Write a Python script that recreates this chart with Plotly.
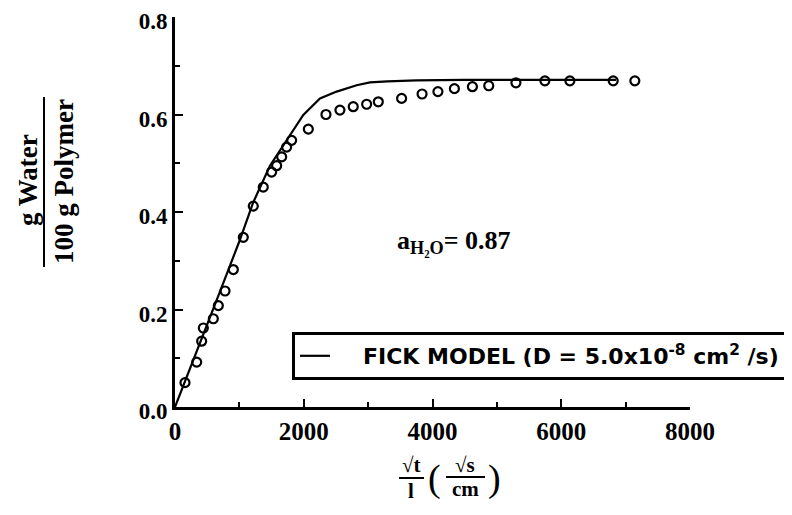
import plotly.graph_objects as go

# Measured data (open circles)
data_x = [155, 337, 414, 440, 595, 673, 777, 906, 1061, 1216, 1371, 1501, 1579, 1657,
          1734, 1812, 2071, 2345, 2562, 2769, 2977, 3158, 3520, 3838, 4084, 4340, 4620,
          4874, 5296, 5746, 6134, 6807, 7143]
data_y = [0.050, 0.092, 0.135, 0.162, 0.181, 0.208, 0.238, 0.282, 0.348, 0.412, 0.451,
          0.482, 0.495, 0.513, 0.533, 0.547, 0.570, 0.600, 0.609, 0.616, 0.621, 0.626,
          0.633, 0.642, 0.647, 0.653, 0.657, 0.659, 0.665, 0.669, 0.669, 0.669, 0.669]

# Fick model curve
fick_x = [0, 150, 400, 700, 1000, 1216, 1475, 1734, 1850, 1993, 2252, 2511, 2822, 3028,
          3300, 3752, 4500, 5500, 6850]
fick_y = [0, 0.05, 0.135, 0.237, 0.34, 0.42, 0.495, 0.547, 0.572, 0.599, 0.633, 0.647,
          0.660, 0.666, 0.668, 0.670, 0.671, 0.671, 0.671]

x_ticks = [0, 2000, 4000, 6000, 8000]
y_ticks = [0.0, 0.2, 0.4, 0.6, 0.8]
y_labels = ["0.0", "0.2", "0.4", "0.6", "0.8"]

OFF = 8  # page body margin
W, H = 792 - OFF, 515 - OFF
L, R, T, B = 175 - OFF, 102, 17 - OFF, 108
pw, ph = W - L - R, H - T - B


def px(x):
    """screen pixel x -> paper"""
    return (x - OFF - L) / pw


def py(y):
    """screen pixel y -> paper"""
    return (H - B - (y - OFF)) / ph


serif = "Liberation Serif"
NB = "\u00a0"

fig = go.Figure()
fig.add_trace(go.Scatter(
    x=fick_x, y=fick_y, mode="lines",
    line=dict(color="black", width=2.2),
    name=NB * 4 + "<b>FICK MODEL (D = 5.0x10<sup>-8</sup> cm<sup>2</sup> /s)</b>",
    showlegend=True, cliponaxis=False))
fig.add_trace(go.Scatter(
    x=data_x, y=data_y, mode="markers",
    marker=dict(symbol="circle-open", size=9, color="black",
                line=dict(width=2.2, color="black")),
    showlegend=False, cliponaxis=False))

fig.update_layout(
    width=W, height=H,
    margin=dict(l=L, r=R, t=T, b=B, autoexpand=False),
    paper_bgcolor="white", plot_bgcolor="white",
    showlegend=True,
    legend=dict(x=px(292), y=py(332), xanchor="left", yanchor="top",
                bordercolor="black", borderwidth=3, bgcolor="white",
                font=dict(family="DejaVu Sans", size=22, color="black"),
                itemwidth=30),
    font=dict(family=serif, color="black"),
)
fig.update_xaxes(
    range=[0, 8000], tickvals=x_ticks, ticktext=[f"<b>{v}</b>" for v in x_ticks],
    showline=True, linecolor="black", linewidth=3, mirror=False, automargin=False,
    ticks="inside", ticklen=8, tickwidth=2, tickcolor="black",
    minor=dict(ticks="inside", ticklen=5, tickwidth=2, dtick=1000, tickcolor="black"),
    tickfont=dict(family=serif, size=25, color="black"), ticklabeloverflow="allow",
    showgrid=False, zeroline=False)
fig.update_yaxes(
    range=[0, 0.8], tickvals=y_ticks, ticktext=[f"<b>{v}</b>" for v in y_labels],
    showline=True, linecolor="black", linewidth=3, mirror=False, automargin=False,
    ticks="inside", ticklen=8, tickwidth=2, tickcolor="black",
    minor=dict(ticks="inside", ticklen=5, tickwidth=2, dtick=0.1, tickcolor="black"),
    tickfont=dict(family=serif, size=23, color="black"), ticklabeloverflow="allow",
    ticklabelshift=4,
    showgrid=False, zeroline=False)

ann = []
# a_H2O annotation
ann.append(dict(x=3417, y=0.338, xref="x", yref="y", xanchor="left", yanchor="middle",
                text="<b>a<sub>H₂O</sub>= 0.87</b>", showarrow=False,
                font=dict(family=serif, size=26, color="black")))
# y-axis title (rotated fraction)
ann.append(dict(x=px(28), y=py(180), xref="paper", yref="paper", text="<b>g Water</b>",
                textangle=-90, showarrow=False, xanchor="center", yanchor="middle",
                font=dict(family=serif, size=27, color="black")))
ann.append(dict(x=px(64), y=py(182), xref="paper", yref="paper", text="<b>100 g Polymer</b>",
                textangle=-90, showarrow=False, xanchor="center", yanchor="middle",
                font=dict(family=serif, size=27, color="black")))
# x-axis title (fractions)
ann.append(dict(x=px(411), y=py(465), xref="paper", yref="paper", text="<b>√t</b>",
                showarrow=False, xanchor="center", yanchor="middle",
                font=dict(family=serif, size=21, color="black")))
ann.append(dict(x=px(411), y=py(491), xref="paper", yref="paper", text="<b>l</b>",
                showarrow=False, xanchor="center", yanchor="middle",
                font=dict(family=serif, size=21, color="black")))
ann.append(dict(x=px(434), y=py(478), xref="paper", yref="paper", text="(",
                showarrow=False, xanchor="center", yanchor="middle",
                font=dict(family=serif, size=38, color="black")))
ann.append(dict(x=px(465), y=py(465), xref="paper", yref="paper", text="<b>√s</b>",
                showarrow=False, xanchor="center", yanchor="middle",
                font=dict(family=serif, size=21, color="black")))
ann.append(dict(x=px(465), y=py(489), xref="paper", yref="paper", text="<b>cm</b>",
                showarrow=False, xanchor="center", yanchor="middle",
                font=dict(family=serif, size=21, color="black")))
ann.append(dict(x=px(494), y=py(478), xref="paper", yref="paper", text=")",
                showarrow=False, xanchor="center", yanchor="middle",
                font=dict(family=serif, size=38, color="black")))
fig.update_layout(annotations=ann)

shapes = [
    dict(type="line", xref="paper", yref="paper", x0=px(44), x1=px(44), y0=py(97), y1=py(267),
         line=dict(color="black", width=2)),
    dict(type="line", xref="paper", yref="paper", x0=px(399), x1=px(424), y0=py(478), y1=py(478),
         line=dict(color="black", width=2)),
    dict(type="line", xref="paper", yref="paper", x0=px(446), x1=px(485), y0=py(477), y1=py(477),
         line=dict(color="black", width=2)),
]
fig.update_layout(shapes=shapes)

fig.write_html("out.html")
